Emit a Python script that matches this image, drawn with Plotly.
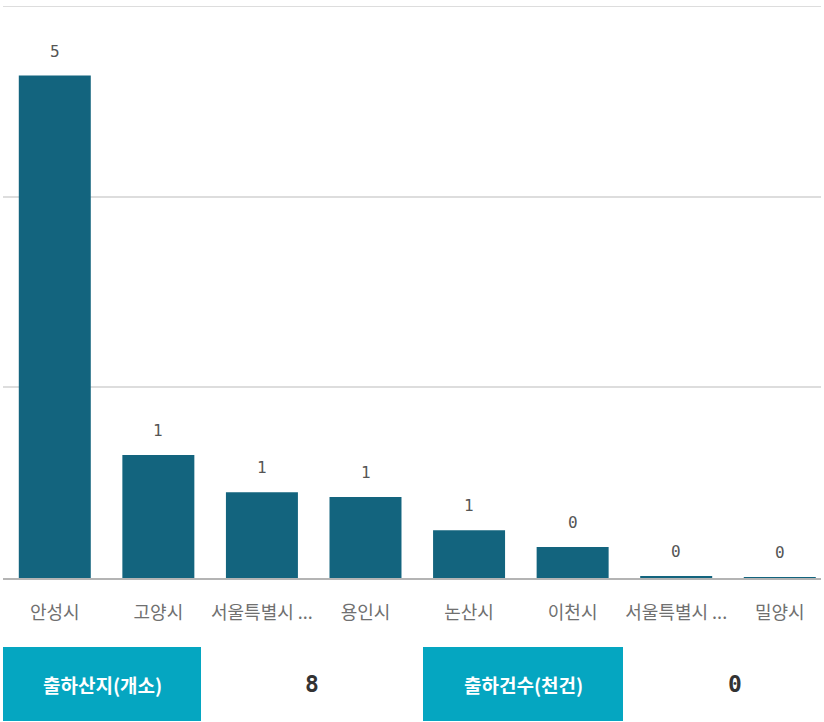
import plotly.graph_objects as go

# Shipments by origin city
cities = ["안성시", "고양시", "서울특별시 ...", "용인시", "논산시", "이천시", "서울특별시 ...", "밀양시"]
values = [5.27, 1.29, 0.90, 0.85, 0.50, 0.325, 0.018, 0.006]

# Summary boxes below the chart
summary_labels = ["출하산지(개소)", "출하건수(천건)"]
summary_values = [8, 0]

W, H = 824, 722
ML, MR, MT, MB = 3, 3, 6, 144
PW, PH = W - ML - MR, H - MT - MB

BAR = "#13647e"
BOX = "#05a6c1"
KR = "Noto Sans CJK KR"
MONO = "DejaVu Sans Mono"
YMAX = 6


def px(x):
    return (x - ML) / PW


def py(y):
    return (H - MB - y) / PH


xs = list(range(len(cities)))

fig = go.Figure(go.Bar(
    x=xs, y=values, marker=dict(color=BAR, line=dict(width=0)),
    hoverinfo="skip", cliponaxis=False,
))

# Value labels above each bar (rounded half up)
for i, v in enumerate(values):
    fig.add_annotation(
        x=i, y=v, text=f"{int(v + 0.5)}", showarrow=False,
        yanchor="bottom", yshift=13,
        font=dict(family=MONO, size=16, color="#555555"),
    )

# Gridline at the top of the value range
fig.add_shape(
    type="line", xref="paper", yref="y", x0=0, x1=1, y0=YMAX, y1=YMAX,
    line=dict(color="#dddddd", width=2),
)

# Summary boxes and figures
boxes = [(3, 201, 312), (423, 623, 735)]
for (x0, x1, vx), lab, val in zip(boxes, summary_labels, summary_values):
    fig.add_shape(
        type="rect", xref="paper", yref="paper",
        x0=px(x0), x1=px(x1), y0=py(721), y1=py(647),
        fillcolor=BOX, line=dict(width=0), layer="above",
    )
    fig.add_annotation(
        xref="paper", yref="paper", x=px((x0 + x1) / 2), y=py(684),
        text=f"<b>{lab}</b>", showarrow=False, xanchor="center", yanchor="middle",
        font=dict(family=KR, size=19, color="white"),
    )
    fig.add_annotation(
        xref="paper", yref="paper", x=px(vx), y=py(684),
        text=f"<b>{val}</b>", showarrow=False, xanchor="center", yanchor="middle",
        font=dict(family=MONO, size=23, color="#333333"),
    )

fig.update_layout(
    width=W, height=H,
    margin=dict(l=ML, r=MR, t=MT, b=MB),
    paper_bgcolor="white", plot_bgcolor="white",
    bargap=0.305, showlegend=False,
    xaxis=dict(
        tickmode="array", tickvals=xs, ticktext=cities,
        range=[-0.5, -0.5 + PW / 103.57],
        showgrid=False, zeroline=False,
        showline=True, linecolor="#b4b4b4", linewidth=2,
        ticks="outside", ticklen=17, tickcolor="rgba(0,0,0,0)",
        tickfont=dict(family=KR, size=18, color="#707070"),
    ),
    yaxis=dict(
        range=[0, YMAX], dtick=2, showticklabels=False,
        showgrid=True, gridcolor="#dddddd", gridwidth=2,
        zeroline=False,
    ),
)

fig.write_html("out.html")
